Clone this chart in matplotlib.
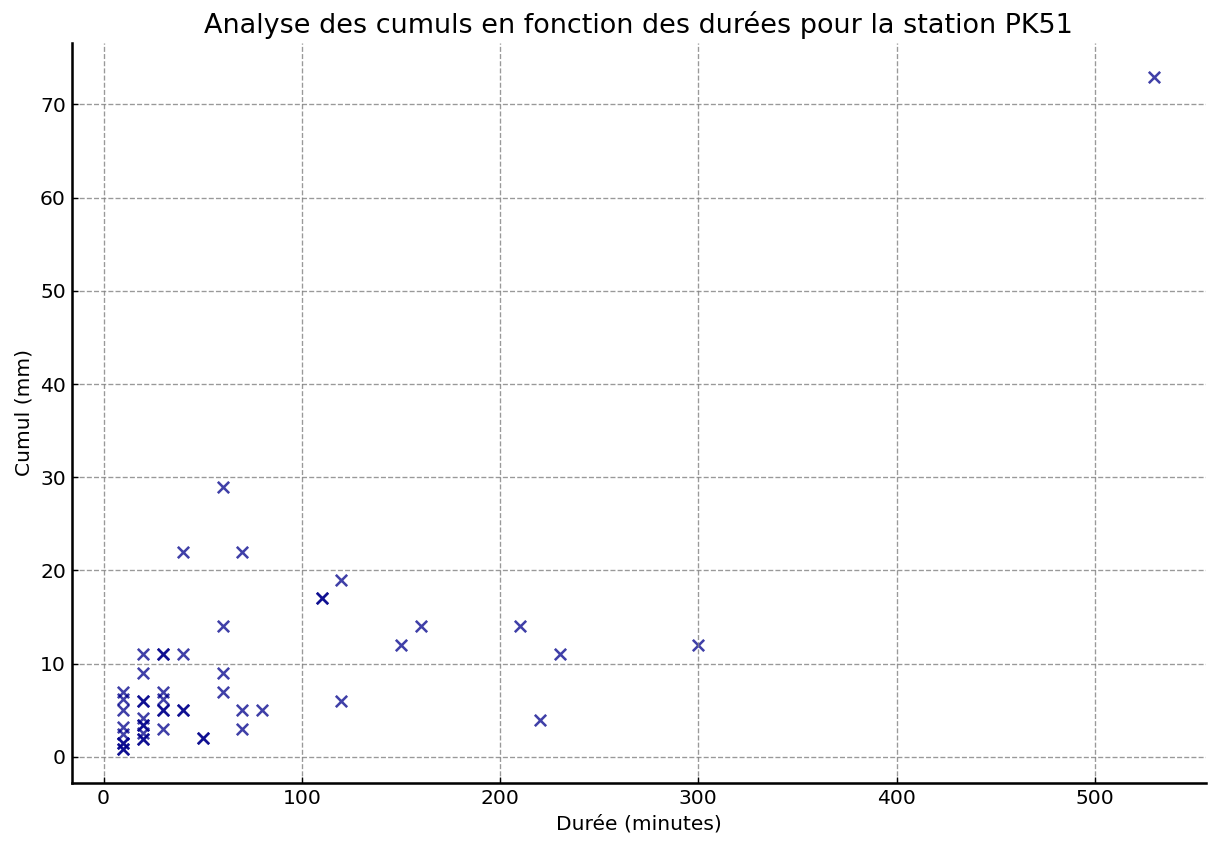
import numpy as np
import matplotlib
matplotlib.use('Agg')
import matplotlib.pyplot as plt

# durées (minutes) et cumuls (mm)
durees = [10, 10, 10, 10, 10, 10, 10, 10, 10,
          20, 20, 20, 20, 20, 20, 20, 20, 20, 20,
          30, 30, 30, 30, 30, 30, 30,
          40, 40, 40, 40, 50, 50,
          60, 60, 60, 60, 70, 70, 70, 80,
          110, 110, 120, 120, 150, 160,
          210, 220, 230, 300, 530]
cumuls = [7, 6.2, 5, 3.2, 2.4, 1.5, 1.5, 0.8, 0.8,
          11, 9, 6, 6, 4.2, 3.4, 3.4, 2.6, 1.9, 1.9,
          11, 11, 7, 6.2, 5, 5, 3,
          22, 11, 5, 5, 2, 2,
          29, 14, 9, 7, 22, 5, 3, 5,
          17, 17, 19, 6, 12, 14,
          14, 4, 11, 12, 73]

fig, ax = plt.subplots(figsize=(10, 6.905), dpi=121.8)
ax.scatter(durees, cumuls, marker='x', color='darkblue', alpha=0.75, s=45, linewidths=1.5)

ax.set_title('Analyse des cumuls en fonction des durées pour la station PK51', fontsize=16)
ax.set_xlabel('Durée (minutes)', fontsize=12)
ax.set_ylabel('Cumul (mm)', fontsize=12)
ax.tick_params(direction='in', labelsize=12)
ax.grid(True, linestyle='--', color='gray', alpha=0.8)
ax.spines['top'].set_visible(False)
ax.spines['right'].set_visible(False)
ax.spines['left'].set_linewidth(1.5)
ax.spines['bottom'].set_linewidth(1.5)

plt.subplots_adjust(left=0.059, right=0.99, top=0.949, bottom=0.069)
plt.savefig('out.png')
